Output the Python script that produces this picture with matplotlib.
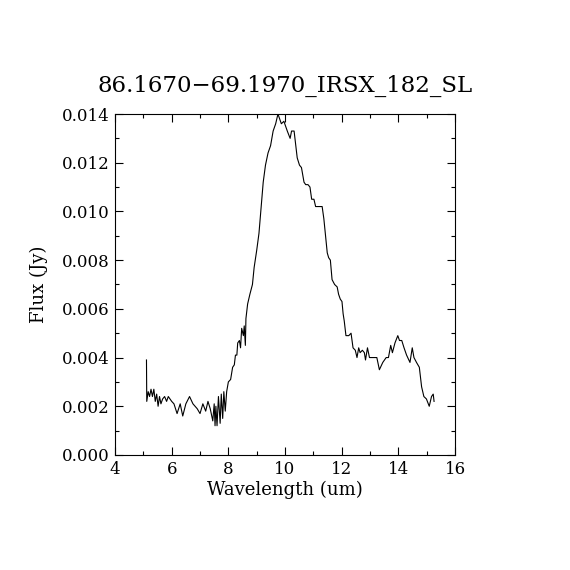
import matplotlib
matplotlib.use("Agg")
import matplotlib.pyplot as plt
from matplotlib.ticker import MultipleLocator, FormatStrFormatter

# spectrum
wavelength = [5.11, 5.12, 5.17, 5.22, 5.27, 5.32, 5.37, 5.42, 5.47, 5.52,
              5.57, 5.62, 5.68, 5.75, 5.82, 5.88, 5.94, 6.00, 6.08, 6.19,
              6.30, 6.39, 6.50, 6.63, 6.75, 6.90, 7.00, 7.10, 7.20, 7.28,
              7.36, 7.45, 7.50, 7.53, 7.56, 7.60, 7.65, 7.71, 7.75, 7.80,
              7.84, 7.89, 7.94, 8.00, 8.08, 8.15, 8.21, 8.25, 8.30, 8.33,
              8.39, 8.43, 8.47, 8.53, 8.56, 8.60, 8.62, 8.68, 8.76, 8.85,
              8.91, 9.00, 9.08, 9.15, 9.23, 9.31, 9.40, 9.49, 9.58, 9.67,
              9.75, 9.81, 9.87, 9.96, 10.08, 10.18, 10.23, 10.32, 10.37, 10.43,
              10.51, 10.58, 10.67, 10.73, 10.81, 10.88, 10.94, 11.02, 11.08, 11.13,
              11.31, 11.37, 11.43, 11.49, 11.54, 11.60, 11.66, 11.75, 11.84, 11.89,
              11.95, 12.01, 12.05, 12.09, 12.15, 12.25, 12.33, 12.40, 12.48, 12.54,
              12.60, 12.65, 12.73, 12.80, 12.84, 12.91, 12.98, 13.06, 13.24, 13.33,
              13.45, 13.57, 13.65, 13.73, 13.79, 13.88, 13.98, 14.04, 14.12, 14.20,
              14.29, 14.41, 14.49, 14.55, 14.64, 14.74, 14.82, 14.90, 14.99, 15.09,
              15.17, 15.23, 15.26]
flux = [0.0039, 0.0022, 0.0026, 0.0024, 0.0027, 0.0024, 0.0027, 0.0022, 0.0025, 0.0020,
        0.0024, 0.0021, 0.0023, 0.0024, 0.0022, 0.0024, 0.0023, 0.0022, 0.0021, 0.0017,
        0.0021, 0.0016, 0.0021, 0.0024, 0.0021, 0.0019, 0.0017, 0.0021, 0.0018, 0.0022,
        0.0019, 0.0014, 0.0021, 0.0012, 0.0020, 0.0012, 0.0024, 0.0013, 0.0025, 0.0015,
        0.0026, 0.0018, 0.0026, 0.0030, 0.0031, 0.0036, 0.0037, 0.0041, 0.0041, 0.0046,
        0.0047, 0.0044, 0.0052, 0.0049, 0.0053, 0.0045, 0.0056, 0.0062, 0.0066, 0.0070,
        0.0077, 0.0084, 0.0091, 0.0101, 0.0112, 0.0119, 0.0124, 0.0127, 0.0133, 0.0136,
        0.0140, 0.0138, 0.0136, 0.0137, 0.0133, 0.0130, 0.0133, 0.0133, 0.0128, 0.0122,
        0.0119, 0.0118, 0.0112, 0.0111, 0.0111, 0.0110, 0.0105, 0.0105, 0.0102, 0.0102,
        0.0102, 0.0097, 0.0090, 0.0083, 0.0081, 0.0080, 0.0072, 0.0070, 0.0069, 0.0066,
        0.0064, 0.0063, 0.0058, 0.0055, 0.0049, 0.0049, 0.0050, 0.0044, 0.0043, 0.0040,
        0.0044, 0.0042, 0.0043, 0.0042, 0.0039, 0.0044, 0.0040, 0.0040, 0.0040, 0.0035,
        0.0038, 0.0040, 0.0040, 0.0045, 0.0042, 0.0046, 0.0049, 0.0047, 0.0047, 0.0044,
        0.0041, 0.0038, 0.0044, 0.0040, 0.0038, 0.0036, 0.0028, 0.0024, 0.0023, 0.0020,
        0.0024, 0.0025, 0.0022]

title = "86.1670\u221269.1970_IRSX_182_SL"

plt.rcParams['font.family'] = ['DejaVu Serif']

fig = plt.figure(figsize=(5.7, 5.7), dpi=100)
ax = fig.add_axes([0.2018, 0.2018, 0.5965, 0.5982])
ax.plot(wavelength, flux, color='black', linewidth=0.8)

ax.set_xlim(4, 16)
ax.set_ylim(0, 0.014)
ax.xaxis.set_major_locator(MultipleLocator(2))
ax.xaxis.set_minor_locator(MultipleLocator(1))
ax.yaxis.set_major_locator(MultipleLocator(0.002))
ax.yaxis.set_minor_locator(MultipleLocator(0.001))
ax.yaxis.set_major_formatter(FormatStrFormatter('%.3f'))
ax.tick_params(which='both', direction='in', top=True, right=True,
               labelsize=12, width=0.8)
ax.tick_params(which='major', length=6, pad=4)
ax.tick_params(which='minor', length=3)
for s in ax.spines.values():
    s.set_linewidth(0.8)

ax.set_xlabel("Wavelength (um)", fontsize=13, labelpad=2)
ax.set_ylabel("Flux (Jy)", fontsize=13, labelpad=10)
fig.text(0.5, 0.85, title, ha='center', va='center', fontsize=16.5)

fig.savefig("out.png", dpi=100)
